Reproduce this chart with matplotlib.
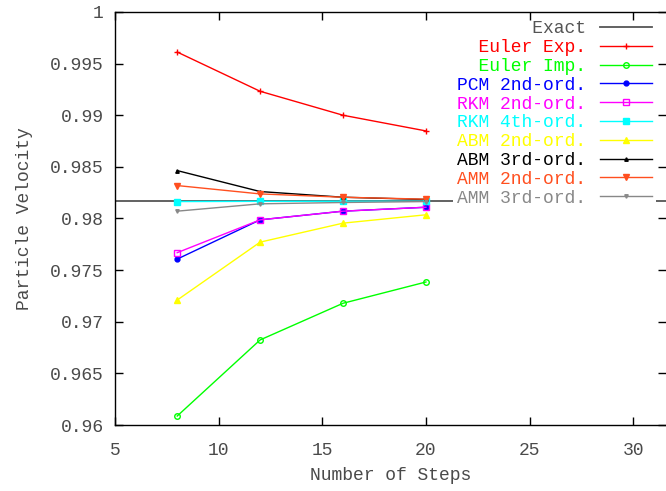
"""Particle velocity vs number of integration steps for several schemes."""

import matplotlib
matplotlib.use("Agg")
import matplotlib.pyplot as plt
from matplotlib.ticker import FuncFormatter

plt.rcParams["font.family"] = ["Liberation Mono", "DejaVu Sans Mono"]

steps = [8, 12, 16, 20]
exact_value = 0.98170

labels = ["Euler Exp.", "Euler Imp.", "PCM 2nd-ord.", "RKM 2nd-ord.",
          "RKM 4th-ord.", "ABM 2nd-ord.", "ABM 3rd-ord.", "AMM 2nd-ord.",
          "AMM 3rd-ord."]
euler_exp = [0.99612, 0.99232, 0.99000, 0.98848]
euler_imp = [0.96087, 0.96824, 0.97179, 0.97385]
pcm_2nd = [0.97607, 0.97987, 0.98071, 0.98109]
rkm_2nd = [0.97669, 0.97987, 0.98071, 0.98109]
rkm_4th = [0.98164, 0.98166, 0.98167, 0.98167]
abm_2nd = [0.97210, 0.97771, 0.97955, 0.98036]
abm_3rd = [0.98464, 0.98261, 0.98206, 0.98184]
amm_2nd = [0.98319, 0.98238, 0.98206, 0.98187]
amm_3rd = [0.98071, 0.98142, 0.98155, 0.98164]
series = [euler_exp, euler_imp, pcm_2nd, rkm_2nd, rkm_4th,
          abm_2nd, abm_3rd, amm_2nd, amm_3rd]

colors = ["#ff0000", "#00ff00", "#0000ff", "#ff00ff", "#00ffff",
          "#ffff00", "#000000", "#ff4f1f", "#888888"]
markers = ["+", "o", "o", "s", "s", "^", "^", "v", "v"]
filled = [True, False, True, False, True, True, True, True, True]
msizes = [5, 4, 3.5, 4, 4.5, 4.5, 2.5, 4.5, 2.5]

FS = 13
TXT = "#4a4a4a"

fig = plt.figure(figsize=(6.66, 4.91), dpi=100)
ax = fig.add_axes([0.1727, 0.1344, 0.8273, 0.8412])

width = 12
ax.axhline(exact_value, color="#555555", lw=1.3, zorder=1.5,
           label="Exact".rjust(width))
for lab, vals, c, m, f, ms in zip(labels, series, colors, markers,
                                  filled, msizes):
    ax.plot(steps, vals, color=c, lw=1.0, marker=m, markersize=ms,
            markerfacecolor=c if f else "none", markeredgecolor=c,
            markeredgewidth=1.0, label=lab.rjust(width))

ax.set_xlim(5, 31.58)
ax.set_ylim(0.96, 1.0)
ax.set_xticks([5, 10, 15, 20, 25, 30])
ax.set_yticks([0.96, 0.965, 0.97, 0.975, 0.98, 0.985, 0.99, 0.995, 1.0])
ax.yaxis.set_major_formatter(FuncFormatter(lambda v, p: "%g" % round(v, 4)))
ax.tick_params(direction="in", top=True, right=True, length=6, width=1,
               labelsize=FS, labelcolor=TXT)
ax.tick_params(axis="x", pad=12)
ax.tick_params(axis="y", pad=8)
ax.spines["right"].set_visible(False)
for s in ["left", "top", "bottom"]:
    ax.spines[s].set_linewidth(1.0)
    ax.spines[s].set_zorder(5)
ax.xaxis.set_zorder(5)
ax.yaxis.set_zorder(5)

ax.set_xlabel("Number of Steps", fontsize=FS, color=TXT, labelpad=6)
ax.set_ylabel("Particle Velocity", fontsize=FS, color=TXT, labelpad=12)

leg = ax.legend(loc="upper right", bbox_to_anchor=(0.985, 0.966),
                bbox_transform=fig.transFigure, markerfirst=False,
                fontsize=FS, labelcolor="linecolor", handlelength=2.9,
                handletextpad=0.8, labelspacing=0.1, borderpad=0.2,
                borderaxespad=0, frameon=True, fancybox=False,
                framealpha=1.0)
leg.get_frame().set_edgecolor("none")
leg.get_frame().set_facecolor("white")
leg.set_zorder(1.8)

fig.savefig("out.png", dpi=100)
